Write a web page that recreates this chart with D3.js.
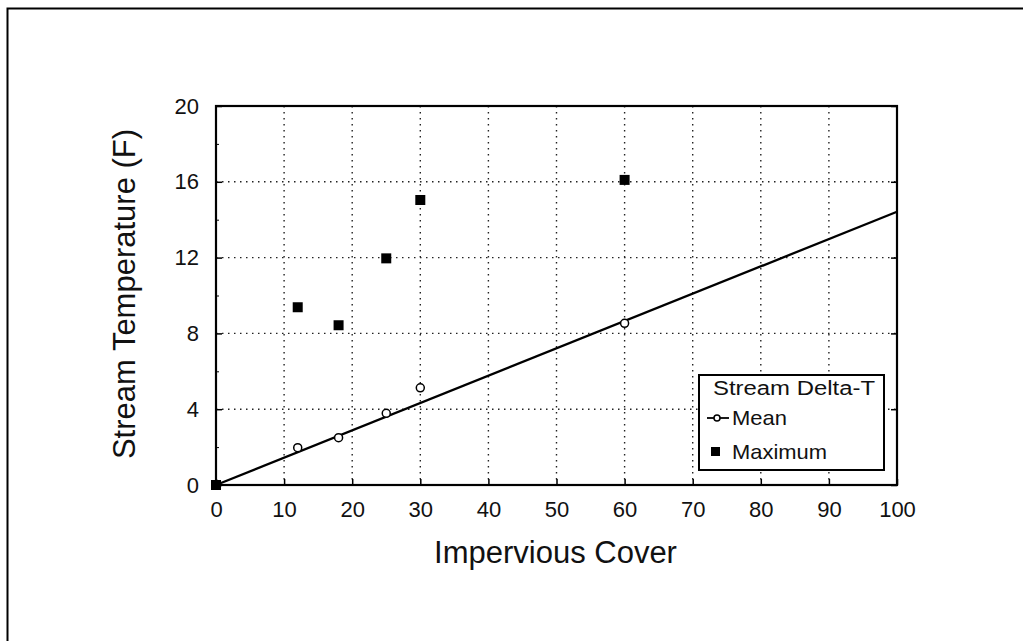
<!DOCTYPE html>
<html>
<head>
<meta charset="utf-8">
<script src="https://cdn.jsdelivr.net/npm/d3@7"></script>
<style>
  html, body { margin: 0; padding: 0; background: #fff; }
  svg { display: block; font-family: "Liberation Sans", Arial, sans-serif; }
</style>
</head>
<body>
<script>
// Datos
const coverPct = [0, 12, 18, 25, 30, 60];
const meanDeltaT = [0, 1.97, 2.5, 3.78, 5.13, 8.53];
const maxDeltaT = [0, 9.38, 8.43, 11.96, 15.04, 16.1];
const fitX = [0, 100];
const fitY = [0, 14.42];
const xTicks = [0, 10, 20, 30, 40, 50, 60, 70, 80, 90, 100];
const yTicks = [0, 4, 8, 12, 16, 20];
const yMinorTicks = [2, 6, 10, 14, 18];
const legendTitle = 'Stream Delta-T';
const seriesNames = ['Mean', 'Maximum'];

const width = 1023;
const height = 641;
const plot = { left: 216, right: 897, top: 106, bottom: 485 };

const svg = d3.select('body').append('svg')
  .attr('width', width)
  .attr('height', height);

// Marco exterior (sólo se ven borde superior e izquierdo)
svg.append('path')
  .attr('d', `M 7.5 ${height + 5} L 7.5 8.5 L ${width + 5} 8.5`)
  .attr('fill', 'none')
  .attr('stroke', '#000')
  .attr('stroke-width', 2);

const x = d3.scaleLinear().domain([0, 100]).range([plot.left, plot.right]);
const y = d3.scaleLinear().domain([0, 20]).range([plot.bottom, plot.top]);

// Rejilla punteada
const grid = svg.append('g').attr('stroke', '#222').attr('stroke-width', 1.4).attr('stroke-dasharray', '1.5,4.5');
grid.selectAll('line.vx').data(xTicks.slice(1, -1)).join('line')
  .attr('x1', d => x(d)).attr('x2', d => x(d))
  .attr('y1', plot.top).attr('y2', plot.bottom);
grid.selectAll('line.hy').data(yTicks.slice(1, -1)).join('line')
  .attr('class', 'hy')
  .attr('x1', plot.left).attr('x2', plot.right)
  .attr('y1', d => y(d)).attr('y2', d => y(d));

// Ejes con ticks hacia dentro
const tickFont = '22px';
const styleAxis = g => {
  g.attr('font-family', null).attr('font-size', null);
  g.select('.domain').remove();
  g.selectAll('line').attr('stroke-width', 1.5);
  g.selectAll('text').attr('font-size', tickFont).attr('fill', '#111');
};

svg.append('g')
  .attr('transform', `translate(0,${plot.bottom})`)
  .call(d3.axisBottom(x).tickValues(xTicks).tickSize(-6).tickPadding(16).tickFormat(d3.format('d')))
  .call(styleAxis);

svg.append('g')
  .attr('transform', `translate(${plot.left},0)`)
  .call(d3.axisLeft(y).tickValues(yTicks).tickSize(-6).tickPadding(17).tickFormat(d3.format('d')))
  .call(styleAxis);

svg.append('g')
  .attr('transform', `translate(${plot.left},0)`)
  .call(d3.axisLeft(y).tickValues(yMinorTicks).tickSize(-3).tickFormat(''))
  .call(g => g.select('.domain').remove());

svg.append('g')
  .attr('transform', `translate(${plot.right},0)`)
  .call(d3.axisRight(y).tickValues(yTicks).tickSize(-6).tickFormat(''))
  .call(styleAxis);

// Borde del área de trazado
svg.append('rect')
  .attr('x', plot.left).attr('y', plot.top)
  .attr('width', plot.right - plot.left).attr('height', plot.bottom - plot.top)
  .attr('fill', 'none').attr('stroke', '#000').attr('stroke-width', 2.2);

// Recta de ajuste
svg.append('line')
  .attr('x1', x(fitX[0])).attr('y1', y(fitY[0]))
  .attr('x2', x(fitX[1])).attr('y2', y(fitY[1]))
  .attr('stroke', '#000').attr('stroke-width', 2.3);

const points = coverPct.map((c, i) => ({ c, mean: meanDeltaT[i], max: maxDeltaT[i] }));

// Media: círculos abiertos
svg.selectAll('circle.mean').data(points.filter(d => d.c > 0)).join('circle')
  .attr('class', 'mean')
  .attr('cx', d => x(d.c)).attr('cy', d => y(d.mean))
  .attr('r', 4)
  .attr('fill', '#fff').attr('stroke', '#000').attr('stroke-width', 1.5);

// Máximo: cuadrados rellenos
const sq = 10;
svg.selectAll('rect.max').data(points).join('rect')
  .attr('class', 'max')
  .attr('x', d => x(d.c) - sq / 2).attr('y', d => y(d.max) - sq / 2)
  .attr('width', sq).attr('height', sq)
  .attr('fill', '#000');

// Títulos de los ejes
svg.append('text')
  .attr('x', (plot.left + plot.right) / 2 - 1).attr('y', 563)
  .attr('text-anchor', 'middle').attr('font-size', '31px').attr('fill', '#111')
  .text('Impervious Cover');

svg.append('text')
  .attr('transform', `translate(135,294) rotate(-90)`)
  .attr('text-anchor', 'middle').attr('font-size', '31px').attr('fill', '#111')
  .text('Stream Temperature (F)');

// Leyenda
const legend = svg.append('g').attr('transform', 'translate(699,375)');
legend.append('rect')
  .attr('width', 185).attr('height', 95)
  .attr('fill', '#fff').attr('stroke', '#000').attr('stroke-width', 2);
legend.append('text')
  .attr('x', 14).attr('y', 20).attr('font-size', '20px').attr('fill', '#111')
  .attr('textLength', 162).attr('lengthAdjust', 'spacingAndGlyphs')
  .text(legendTitle);
legend.append('line')
  .attr('x1', 8).attr('x2', 30).attr('y1', 43).attr('y2', 43)
  .attr('stroke', '#000').attr('stroke-width', 1.8);
legend.append('circle')
  .attr('cx', 18).attr('cy', 43).attr('r', 3)
  .attr('fill', '#fff').attr('stroke', '#000').attr('stroke-width', 1.5);
legend.append('rect')
  .attr('x', 12).attr('y', 72).attr('width', 9).attr('height', 9).attr('fill', '#000');
legend.selectAll('text.item').data(seriesNames).join('text')
  .attr('class', 'item')
  .attr('x', 33).attr('y', (d, i) => 50 + i * 34)
  .attr('font-size', '21px').attr('fill', '#111')
  .attr('textLength', (d, i) => [55, 95][i]).attr('lengthAdjust', 'spacingAndGlyphs')
  .text(d => d);
</script>
</body>
</html>
